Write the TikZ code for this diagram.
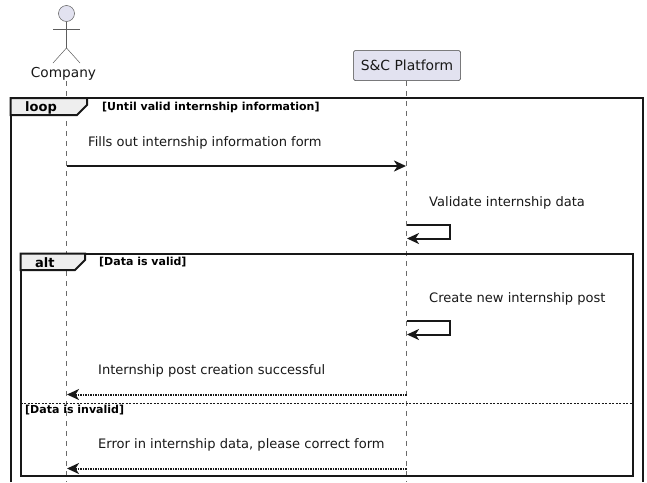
\documentclass[tikz,border=0pt]{standalone}
\usepackage{fontspec}
\setmainfont{DejaVu Sans}
\usepackage{tikz}
\usetikzlibrary{positioning, arrows.meta}
\definecolor{partfill}{HTML}{E2E2F0}
\definecolor{inkc}{HTML}{181818}
\definecolor{tabfill}{HTML}{EEEEEE}
\tikzset{
  partbox/.style={rectangle, rounded corners=1.5pt, draw=inkc!85, line width=0.5pt,
                  fill=partfill, minimum width=107pt, minimum height=30pt,
                  inner sep=0pt, align=center, text=inkc, font=\fontsize{13.9}{15}\selectfont},
  lifeline/.style={draw=inkc!65, line width=0.5pt, dash pattern=on 5pt off 5pt},
  actorline/.style={draw=inkc!70, line width=0.5pt},
  frameline/.style={draw=inkc, line width=2pt},
  tabbox/.style={draw=inkc, line width=2pt, fill=tabfill},
  msg/.style={font=\fontsize{13.05}{15}\selectfont, anchor=base west, inner sep=0pt, text=inkc},
  cond/.style={font=\fontsize{11}{13}\selectfont\bfseries, anchor=base west, inner sep=0pt},
  tabtext/.style={font=\fontsize{13}{15}\selectfont\bfseries, anchor=base west, inner sep=0pt},
  arr/.style={-{Stealth[length=12pt, width=11pt, inset=3.5pt]}, draw=inkc, line width=2pt},
  retarr/.style={-{Stealth[length=12pt, width=11pt, inset=3.5pt]}, draw=inkc, line width=2pt,
                 dash pattern=on 1.5pt off 1pt},
}
\begin{document}
\begin{tikzpicture}[x=1pt, y=-1pt]
  \useasboundingbox (0,0) rectangle (647,482);
  % participants
  \node[msg, font=\fontsize{13.7}{15}\selectfont, anchor=base] (company) at (63.5,77.5) {Company};
  \node[partbox] (platform) at (407,65.5) {S\&C Platform};
  \coordinate (companyend) at (66.5,482);
  \coordinate (platformend) at (406.5,482);
  \coordinate (companytop) at (66.5,81);
  \draw[lifeline] (companytop) -- (companyend);
  \draw[lifeline] (platform.south -| platformend) -- (platformend);
  % actor
  \node[circle, draw=inkc!70, line width=0.5pt, fill=partfill, minimum size=16pt, inner sep=0pt] (head) at (66.5,13.5) {};
  \coordinate (hip) at (66.5,48);
  \draw[actorline] (head.south) -- (hip);
  \draw[actorline] (53,29) -- (80,29);
  \draw[actorline] (53,63) -- (hip) -- (80,63);
  % loop frame
  \draw[frameline] (10.5,482) -- (10.5,98) -- (643,98) -- (643,482);
  \filldraw[tabbox] (10.5,98) -- (87,98) -- (87,105) -- (77,115) -- (10.5,115) -- cycle;
  \node[tabtext] (looptxt) at (25,111) {loop};
  \node[cond] (loopcond) at (102,110) {[Until valid internship information]};
  % alt frame
  \draw[frameline] (20.5,253.5) rectangle (633,476);
  \filldraw[tabbox] (20.5,253.5) -- (85,253.5) -- (85,260) -- (75,270) -- (20.5,270) -- cycle;
  \node[tabtext] (alttxt) at (35,267) {alt};
  \node[cond] (altcond) at (99,265) {[Data is valid]};
  \draw[inkc, line width=0.7pt, dash pattern=on 2pt off 1.5pt] (20.5,403) -- (633,403);
  \node[cond] (elsecond) at (25,413) {[Data is invalid]};
  % messages
  \node[msg] (fills) at (88,146) {Fills out internship information form};
  \coordinate (a1) at (66.5,166);
  \coordinate (b1) at (406,166);
  \draw[arr] (a1) -- (b1);
  \node[msg] (validate) at (429,206) {Validate internship data};
  \coordinate (s1) at (406.5,225);
  \coordinate (e1) at (407,238.5);
  \draw[arr] (s1) -- (450,225) -- (450,238.5) -- (e1);
  \node[msg] (create) at (429,302) {Create new internship post};
  \coordinate (s2) at (406.5,321);
  \coordinate (e2) at (407,334.5);
  \draw[arr] (s2) -- (450,321) -- (450,334.5) -- (e2);
  \node[msg] (success) at (98,374) {Internship post creation successful};
  \coordinate (a2) at (406.5,394.5);
  \coordinate (b2) at (67,394.5);
  \draw[retarr] (a2) -- (b2);
  \node[msg] (error) at (98,448) {Error in internship data, please correct form};
  \coordinate (a3) at (406.5,468.5);
  \coordinate (b3) at (67,468.5);
  \draw[retarr] (a3) -- (b3);
\end{tikzpicture}
\end{document}
